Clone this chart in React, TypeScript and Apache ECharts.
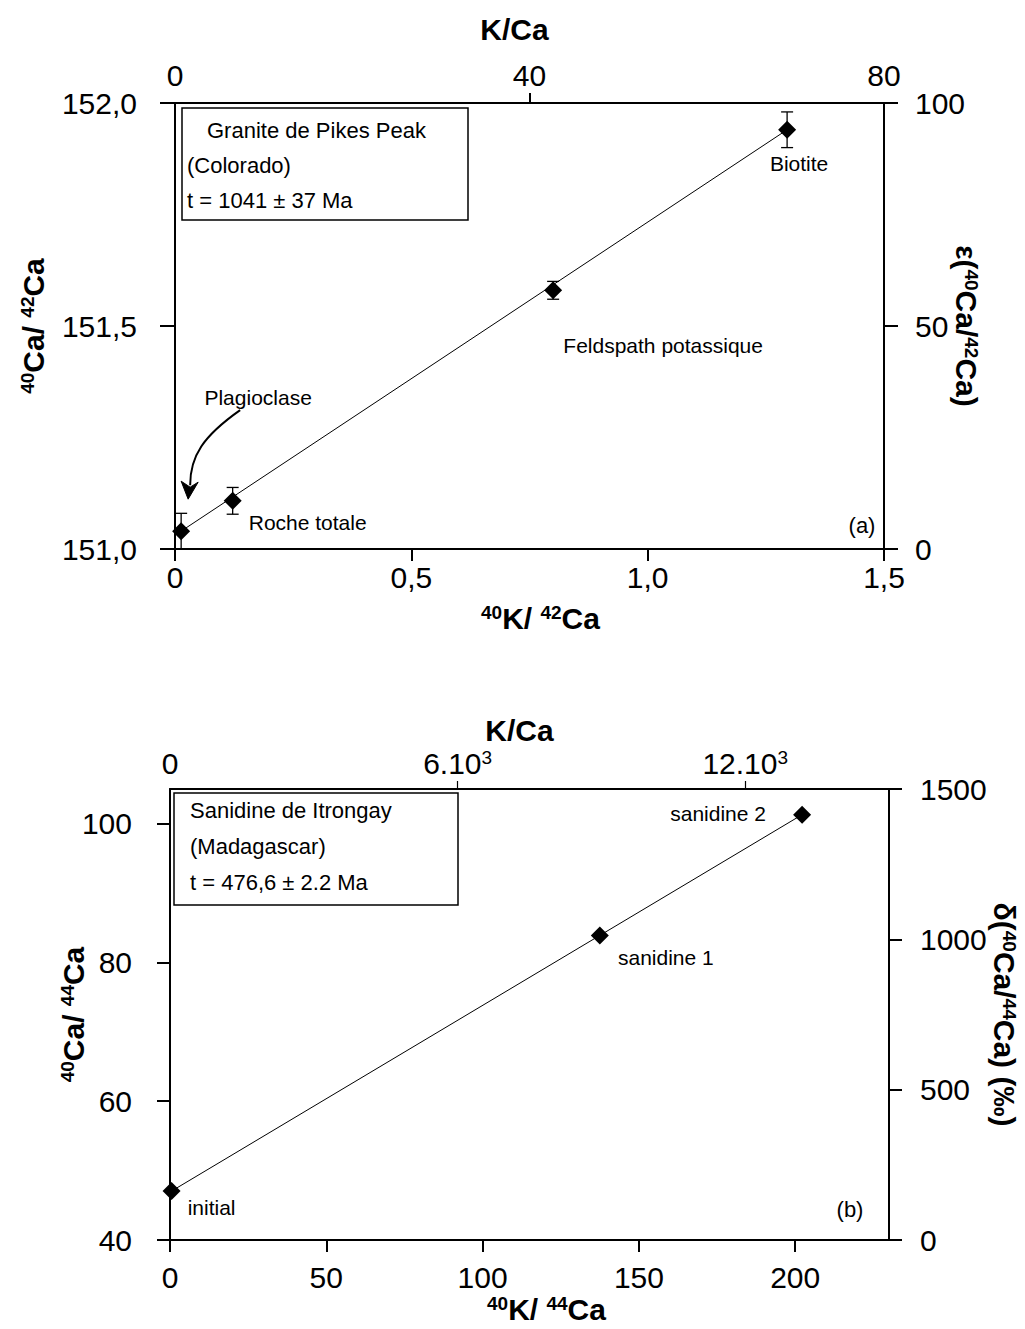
import React, { useEffect, useRef } from 'react';
import * as echarts from 'echarts';

const FONT = '"Liberation Sans", Arial, sans-serif';

// ---------- Panel (a): Granite de Pikes Peak ----------
const aNames = ['Plagioclase', 'Roche totale', 'Feldspath potassique', 'Biotite'];
const aK42 = [0.013, 0.122, 0.8, 1.295];
const aCa4042 = [151.04, 151.108, 151.58, 151.94];
const aErr = [0.04, 0.03, 0.02, 0.04];
const aFitK = [0.013, 1.295];
const aFitCa = [151.04, 151.94];
const aXTicks = [0, 0.5, 1.0, 1.5];
const aKCaTicks = [0, 40, 80];
const aKCaTickMarks = [40];
const aBox = ['Granite de Pikes Peak', '(Colorado)', 't = 1041 ± 37 Ma'];

// ---------- Panel (b): Sanidine de Itrongay ----------
const bNames = ['initial', 'sanidine 1', 'sanidine 2'];
const bK44 = [0.5, 137.5, 202.2];
const bCa4044 = [47.05, 83.9, 101.3];
const bFitK = [0.5, 202.2];
const bFitCa = [47.05, 101.3];
const bXTicks = [0, 50, 100, 150, 200];
const bYTicks = [40, 60, 80, 100];
const bKCaTicks = [0, 6000, 12000];
const bKCaTickMarks = [6000, 12000];
const bBox = ['Sanidine de Itrongay', '(Madagascar)', 't = 476,6 ± 2.2 Ma'];

const aLabelOffsets = [[77, -134], [75, 22], [110, 55], [12, 34]];
const bLabelOffsets = [[40, 16], [66, 22], [-84, -1]];

const BLACK = '#000';
const TICK_FS = 30;
const NAME_FS = 30;
const SUP_FS = 19;
const ANN_FS = 22;
const PT_FS = 21;

const titleRich = {
  b: { fontFamily: FONT, fontWeight: 'bold', fontSize: NAME_FS, color: BLACK, verticalAlign: 'bottom' },
  s: { fontFamily: FONT, fontWeight: 'bold', fontSize: SUP_FS, color: BLACK, verticalAlign: 'top' },
};
const supLabelRich = {
  a: { fontFamily: FONT, fontSize: TICK_FS, color: BLACK, verticalAlign: 'bottom' },
  s: { fontFamily: FONT, fontSize: SUP_FS, color: BLACK, verticalAlign: 'top' },
};

const comma = (v: number) => (v === 0 ? '0' : v.toFixed(1).replace('.', ','));
const plain = (v: number) => String(v);

const lineStyle = { color: BLACK, width: 2 };

function axisBase(extra: any) {
  return {
    type: 'value',
    splitLine: { show: false },
    axisLine: { show: true, onZero: false, lineStyle },
    axisTick: { show: true, lineStyle, length: 13 },
    axisLabel: { color: BLACK, fontFamily: FONT, fontSize: TICK_FS },
    nameTextStyle: { rich: titleRich },
    nameMoveOverlap: false,
    ...extra,
  };
}

export default function App() {
  const ref = useRef<HTMLDivElement>(null);
  useEffect(() => {
    document.body.style.margin = '0';
    const chart = echarts.init(ref.current!, null, { renderer: 'svg' });

    const errRender = (params: any, api: any) => {
      const x = api.value(0);
      const y = api.value(1);
      const e = api.value(2);
      const t = api.coord([x, y + e]);
      const b = api.coord([x, y - e]);
      const hw = 6;
      const st = { stroke: BLACK, lineWidth: 1.3 };
      return {
        type: 'group',
        children: [
          { type: 'line', shape: { x1: t[0], y1: t[1], x2: b[0], y2: b[1] }, style: st },
          { type: 'line', shape: { x1: t[0] - hw, y1: t[1], x2: t[0] + hw, y2: t[1] }, style: st },
          { type: 'line', shape: { x1: b[0] - hw, y1: b[1], x2: b[0] + hw, y2: b[1] }, style: st },
        ],
      };
    };

    const ptLabel = (off: number[]) => ({
      show: true,
      position: 'inside',
      offset: off,
      color: BLACK,
      opacity: 1,
      fontFamily: FONT,
      fontSize: PT_FS,
      formatter: '{b}',
    });

    const option: any = {
      animation: false,
      backgroundColor: '#fff',
      grid: [
        { left: 175, top: 103, width: 709, height: 446, outerBoundsMode: 'none', containLabel: false },
        { left: 170, top: 789, width: 719, height: 451, outerBoundsMode: 'none', containLabel: false },
      ],
      xAxis: [
        axisBase({
          gridIndex: 0, position: 'bottom', min: 0, max: 1.5, interval: 0.5,
          axisTick: { show: true, lineStyle, length: 12, customValues: aXTicks },
          axisLabel: { color: BLACK, fontFamily: FONT, fontSize: TICK_FS, margin: 13, formatter: comma, customValues: aXTicks },
          name: '{s|40}{b|K/ }{s|42}{b|Ca}', nameLocation: 'middle', nameGap: 54,
          nameTextStyle: { rich: titleRich, padding: [0, 0, 0, 22] },
        }),
        axisBase({
          gridIndex: 0, position: 'top', min: 0, max: 80,
          axisTick: { show: true, lineStyle, length: 10, customValues: aKCaTickMarks },
          axisLabel: { color: BLACK, fontFamily: FONT, fontSize: TICK_FS, margin: 13, formatter: plain, customValues: aKCaTicks },
          name: '{b|K/Ca}', nameLocation: 'middle', nameGap: 59,
          nameTextStyle: { rich: titleRich, padding: [0, 30, 0, 0] },
        }),
        axisBase({
          gridIndex: 1, position: 'bottom', min: 0, max: 230,
          axisTick: { show: true, lineStyle, length: 12, customValues: bXTicks },
          axisLabel: { color: BLACK, fontFamily: FONT, fontSize: TICK_FS, margin: 22, formatter: plain, customValues: bXTicks },
          name: '{s|40}{b|K/ }{s|44}{b|Ca}', nameLocation: 'middle', nameGap: 54,
          nameTextStyle: { rich: titleRich, padding: [0, 0, 0, 34] },
        }),
        axisBase({
          gridIndex: 1, position: 'top', min: 0, max: 15000,
          axisTick: { show: true, lineStyle: { color: BLACK, width: 1.2 }, length: 8, customValues: bKCaTickMarks },
          axisLabel: {
            color: BLACK, fontFamily: FONT, fontSize: TICK_FS, margin: 11, customValues: bKCaTicks,
            formatter: (v: number) => (v === 0 ? '{a|0}' : `{a|${v / 1000}.10}{s|3}`),
            rich: supLabelRich,
          },
          name: '{b|K/Ca}', nameLocation: 'middle', nameGap: 44,
          nameTextStyle: { rich: titleRich, padding: [0, 20, 0, 0] },
        }),
      ],
      yAxis: [
        axisBase({
          gridIndex: 0, position: 'left', min: 151, max: 152, interval: 0.5,
          axisTick: { show: true, lineStyle, length: 15 },
          axisLabel: { color: BLACK, fontFamily: FONT, fontSize: TICK_FS, margin: 38, formatter: comma },
          name: '{s|40}{b|Ca/ }{s|42}{b|Ca}', nameLocation: 'middle', nameGap: 127, nameRotate: 90,
        }),
        axisBase({
          gridIndex: 0, position: 'right', min: 0, max: 100, interval: 50,
          axisTick: { show: true, lineStyle, length: 14 },
          axisLabel: { color: BLACK, fontFamily: FONT, fontSize: TICK_FS, margin: 31, formatter: plain },
          name: '{b|ε(}{s|40}{b|Ca/}{s|42}{b|Ca)}', nameLocation: 'middle', nameGap: 67, nameRotate: -90,
        }),
        axisBase({
          gridIndex: 1, position: 'left', min: 40, max: 105,
          axisTick: { show: true, lineStyle, length: 13, customValues: bYTicks },
          axisLabel: { color: BLACK, fontFamily: FONT, fontSize: TICK_FS, margin: 38, formatter: plain, customValues: bYTicks },
          name: '{s|40}{b|Ca/ }{s|44}{b|Ca}', nameLocation: 'middle', nameGap: 82, nameRotate: 90,
        }),
        axisBase({
          gridIndex: 1, position: 'right', min: 0, max: 1500, interval: 500,
          axisTick: { show: true, lineStyle, length: 13 },
          axisLabel: { color: BLACK, fontFamily: FONT, fontSize: TICK_FS, margin: 31, formatter: plain },
          name: '{b|δ(}{s|40}{b|Ca/}{s|44}{b|Ca) (‰)}', nameLocation: 'middle', nameGap: 100, nameRotate: -90,
        }),
      ],
      series: [
        {
          type: 'line', xAxisIndex: 0, yAxisIndex: 0, symbol: 'none', z: 2,
          lineStyle: { color: BLACK, width: 1 },
          data: aFitK.map((x, i) => [x, aFitCa[i]]),
        },
        {
          type: 'custom', xAxisIndex: 0, yAxisIndex: 0, z: 3,
          renderItem: errRender,
          data: aK42.map((x, i) => [x, aCa4042[i], aErr[i]]),
        },
        {
          type: 'scatter', xAxisIndex: 0, yAxisIndex: 0, symbol: 'diamond', symbolSize: 18, z: 4,
          itemStyle: { color: BLACK, opacity: 1 },
          data: aK42.map((x, i) => ({ name: aNames[i], value: [x, aCa4042[i]], label: ptLabel(aLabelOffsets[i]) })),
        },
        {
          type: 'line', xAxisIndex: 2, yAxisIndex: 2, symbol: 'none', z: 2,
          lineStyle: { color: BLACK, width: 1 },
          data: bFitK.map((x, i) => [x, bFitCa[i]]),
        },
        {
          type: 'scatter', xAxisIndex: 2, yAxisIndex: 2, symbol: 'diamond', symbolSize: 18, z: 4,
          itemStyle: { color: BLACK, opacity: 1 },
          data: bK44.map((x, i) => ({ name: bNames[i], value: [x, bCa4044[i]], label: ptLabel(bLabelOffsets[i]) })),
        },
      ],
    };
    chart.setOption(option);

    // Annotations: boxes, panel letters, arrow pointing to plagioclase
    const p = chart.convertToPixel({ xAxisIndex: 0, yAxisIndex: 0 } as any, [aK42[0], aCa4042[0]]) as number[];
    const txt = (text: string, x: number, y: number, extra: any = {}) => ({
      type: 'text', x, y, z: 10,
      style: { text, fill: BLACK, fontFamily: FONT, fontSize: ANN_FS, textVerticalAlign: 'middle', verticalAlign: 'middle', ...extra },
    });
    const graphic: any[] = [
      { type: 'rect', z: 9, shape: { x: 182, y: 108, width: 286, height: 112 }, style: { fill: '#fff', stroke: BLACK, lineWidth: 1.5 } },
      txt(aBox[0], 207, 130),
      txt(aBox[1], 187, 165),
      txt(aBox[2], 187, 200),
      { type: 'rect', z: 9, shape: { x: 174, y: 793, width: 284, height: 112 }, style: { fill: '#fff', stroke: BLACK, lineWidth: 1.5 } },
      txt(bBox[0], 190, 810),
      txt(bBox[1], 190, 846),
      txt(bBox[2], 190, 882),
      txt('(a)', 862, 525, { textAlign: 'center', align: 'center' }),
      txt('(b)', 850, 1209, { textAlign: 'center', align: 'center' }),
      {
        type: 'bezierCurve', z: 10,
        shape: { x1: p[0] + 59, y1: p[1] - 121, cpx1: p[0] + 22, cpy1: p[1] - 95, cpx2: p[0] + 9, cpy2: p[1] - 75, x2: p[0] + 9, y2: p[1] - 46 },
        style: { stroke: BLACK, lineWidth: 2, fill: null },
      },
      {
        type: 'polygon', z: 10,
        shape: { points: [[p[0] + 0, p[1] - 50], [p[0] + 9, p[1] - 44], [p[0] + 17, p[1] - 49], [p[0] + 7, p[1] - 32]] },
        style: { fill: BLACK, stroke: BLACK, lineWidth: 1 },
      },
    ];
    chart.setOption({ graphic });

    return () => chart.dispose();
  }, []);
  return <div ref={ref} style={{ position: 'absolute', left: 0, top: 0, width: 1025, height: 1329 }} />;
}
